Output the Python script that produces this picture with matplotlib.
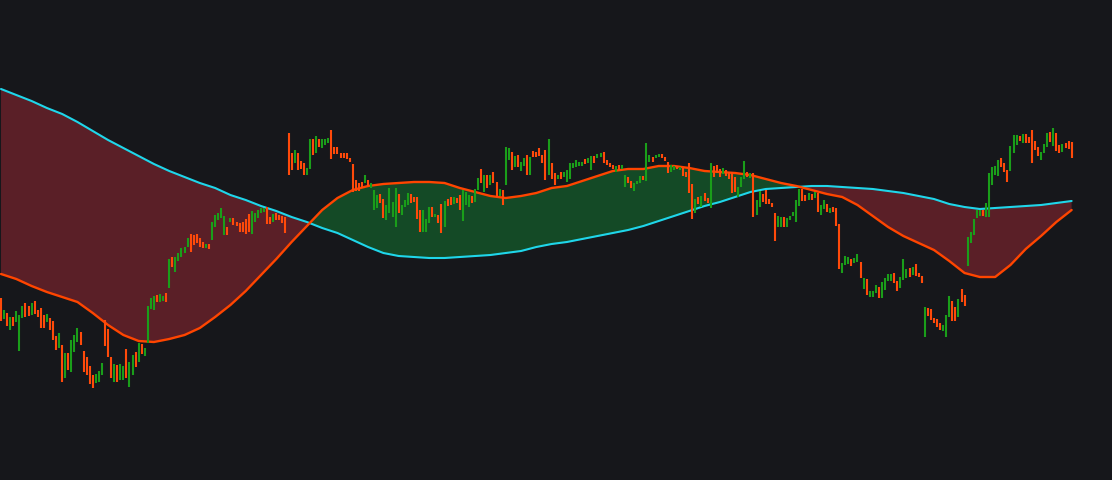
import numpy as np
import matplotlib.pyplot as plt

# candle open / close values, one pair per session
opens = [182, 161, 167, 150, 163, 158, 129, 162, 177, 174, 165, 179, 170, 172, 165, 158, 162, 159, 144, 132,
         135, 102, 127, 108, 128, 138, 148, 129, 123, 114, 105, 97, 98, 105, 160, 151, 123, 98, 115, 100,
         100, 131, 93, 105, 128, 118, 136, 124, 137, 171, 170, 185, 178, 179, 187, 192, 223, 208, 219, 223,
         227, 233, 246, 245, 246, 242, 238, 232, 236, 240, 253, 260, 262, 245, 253, 258, 262, 258, 257, 258,
         261, 266, 246, 258, 262, 267, 268, 273, 263, 258, 267, 265, 264, 263, 347, 327, 317, 327, 319, 317,
         305, 311, 341, 327, 341, 332, 335, 337, 350, 333, 333, 327, 327, 327, 322, 316, 300, 297, 298, 297,
         300, 292, 270, 272, 286, 281, 260, 267, 263, 253, 286, 265, 273, 275, 286, 283, 283, 270, 248, 248,
         257, 273, 263, 265, 276, 253, 281, 283, 276, 282, 285, 259, 275, 273, 284, 278, 290, 311, 288, 305,
         295, 308, 298, 284, 290, 295, 320, 328, 313, 325, 309, 314, 325, 305, 329, 328, 332, 325, 330, 305,
         317, 307, 301, 308, 303, 298, 301, 312, 313, 314, 314, 321, 317, 310, 324, 322, 323, 328, 320, 317,
         315, 308, 315, 311, 293, 303, 299, 289, 296, 297, 304, 299, 318, 323, 322, 323, 326, 323, 318, 308,
         310, 314, 310, 312, 308, 317, 296, 267, 283, 273, 287, 282, 272, 314, 315, 311, 306, 310, 308, 308,
         303, 283, 293, 301, 308, 302, 307, 265, 273, 286, 290, 281, 277, 267, 253, 253, 263, 253, 260, 264,
         258, 274, 291, 285, 280, 286, 282, 287, 265, 271, 276, 267, 273, 272, 256, 207, 215, 216, 221, 217,
         218, 218, 191, 201, 183, 183, 187, 193, 182, 190, 199, 199, 207, 199, 192, 200, 202, 212, 205, 216,
         207, 204, 143, 172, 171, 162, 161, 157, 149, 143, 163, 179, 173, 163, 191, 185, 214, 237, 245, 262,
         264, 270, 263, 263, 295, 305, 304, 322, 317, 310, 309, 327, 335, 344, 337, 346, 343, 350, 339, 333,
         320, 327, 333, 348, 334, 347, 335, 328, 337, 339, 338]
closes = [159, 170, 154, 163, 154, 169, 165, 174, 163, 164, 177, 166, 163, 152, 152, 166, 150, 140, 130, 147,
          98, 127, 110, 140, 145, 152, 135, 108, 105, 96, 92, 106, 109, 117, 134, 123, 102, 116, 98, 116,
          114, 102, 118, 125, 113, 137, 126, 132, 174, 182, 184, 178, 186, 184, 178, 221, 213, 223, 227, 232,
          233, 242, 228, 235, 237, 233, 232, 236, 231, 258, 265, 267, 272, 264, 245, 262, 255, 254, 248, 248,
          246, 248, 269, 267, 270, 272, 272, 256, 256, 266, 260, 260, 257, 247, 305, 310, 330, 310, 311, 305,
          312, 341, 325, 344, 333, 341, 341, 342, 321, 326, 326, 322, 322, 321, 318, 288, 289, 289, 292, 305,
          294, 297, 290, 285, 277, 262, 275, 292, 278, 292, 267, 275, 280, 287, 277, 278, 261, 248, 270, 261,
          273, 263, 266, 257, 247, 279, 274, 275, 283, 277, 270, 290, 288, 285, 277, 291, 302, 297, 305, 292,
          305, 297, 283, 291, 275, 333, 332, 310, 324, 313, 318, 322, 305, 323, 323, 323, 324, 317, 300, 341,
          301, 295, 305, 301, 308, 310, 317, 317, 320, 318, 318, 316, 322, 324, 317, 326, 327, 317, 315, 313,
          311, 314, 310, 315, 305, 297, 292, 297, 299, 304, 300, 337, 325, 318, 325, 326, 322, 319, 307, 315,
          314, 311, 313, 304, 303, 287, 261, 281, 276, 284, 279, 277, 317, 303, 307, 303, 312, 304, 301, 287,
          288, 293, 303, 319, 303, 307, 263, 280, 289, 278, 276, 276, 273, 239, 264, 263, 253, 262, 264, 268,
          280, 291, 279, 279, 287, 280, 288, 268, 275, 280, 268, 272, 268, 254, 211, 217, 224, 223, 214, 222,
          226, 202, 202, 185, 189, 189, 195, 182, 198, 202, 206, 206, 197, 189, 203, 221, 211, 203, 213, 204,
          203, 197, 173, 164, 160, 157, 153, 150, 155, 165, 184, 159, 159, 181, 178, 174, 243, 248, 261, 270,
          270, 264, 277, 307, 313, 314, 320, 313, 308, 298, 334, 345, 345, 339, 346, 337, 337, 317, 330, 324,
          328, 336, 347, 338, 352, 329, 327, 336, 332, 331, 322]

# moving averages, sampled every 5 sessions
ma_idx = list(range(0, 351, 5))
ma_slow = [391, 385, 379, 372, 366, 358, 349, 340, 332, 324, 316, 309, 303, 297, 292, 285, 280, 274, 269, 263,
           258, 252, 247, 240, 233, 227, 224, 223, 222, 222, 223, 224, 225, 227, 229, 233, 236, 238, 241, 244,
           247, 250, 254, 259, 264, 269, 274, 278, 283, 288, 291, 292, 293, 294, 294, 293, 292, 291, 289, 287,
           284, 281, 276, 273, 271, 272, 273, 274, 275, 277, 279]
ma_fast = [206, 201, 194, 188, 183, 178, 167, 155, 145, 139, 138, 141, 145, 152, 163, 175, 189, 205, 221, 238,
           254, 270, 282, 290, 294, 296, 297, 298, 298, 297, 292, 288, 284, 282, 284, 287, 292, 294, 299, 304,
           309, 311, 311, 314, 314, 312, 309, 308, 307, 305, 301, 297, 294, 290, 286, 283, 275, 264, 253, 244,
           237, 230, 219, 207, 203, 203, 215, 231, 244, 258, 270]

bg = '#16171b'
up_col = '#1a9e1a'
down_col = '#ff4a0a'

fig = plt.figure(figsize=(11.12, 4.8), dpi=100, facecolor=bg)
ax = fig.add_axes([0, 0, 1, 1])
ax.set_facecolor(bg)

mi = np.array(ma_idx)
slow = np.array(ma_slow)
fast = np.array(ma_fast)
ax.fill_between(mi, fast, slow, where=fast >= slow, interpolate=True, color='#144a26', lw=0)
ax.fill_between(mi, fast, slow, where=fast < slow, interpolate=True, color='#5a1f27', lw=0)
ax.plot(mi, slow, color='#1fd6ea', lw=1.5, solid_capstyle='round')
ax.plot(mi, fast, color='#ff4500', lw=1.7, solid_capstyle='round')

o = np.array(opens)
c = np.array(closes)
idx = np.arange(len(c))
up = c >= o
ax.vlines(idx[up], o[up], c[up], color=up_col, lw=1.5)
ax.vlines(idx[~up], c[~up], o[~up], color=down_col, lw=1.5)

ax.set_xlim(-0.33, 363.2)
ax.set_ylim(0, 480)
ax.axis('off')

fig.savefig('out.png', dpi=100, facecolor=bg)
